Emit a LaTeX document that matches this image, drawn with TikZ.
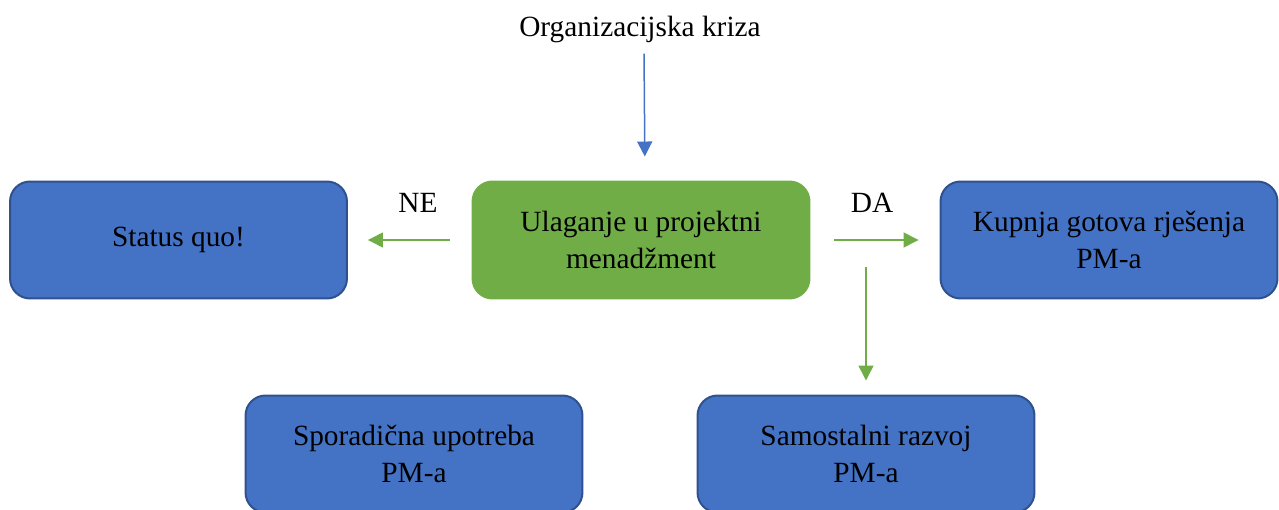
\documentclass[tikz,border=0pt]{standalone}
\usepackage{fontspec}
\setmainfont{Liberation Serif}
\usetikzlibrary{arrows.meta}

\definecolor{boxblue}{HTML}{4472C4}
\definecolor{boxline}{HTML}{2F528F}
\definecolor{boxgreen}{HTML}{70AD47}

\begin{document}
\begin{tikzpicture}[x = 0.02cm, y = -0.02cm,
  every node/.style = {font = \fontsize{16.7}{21}\selectfont, align = center},
  box/.style = {draw = boxline, fill = boxblue, line width = 0.04cm,
    rounded corners = 0.4cm, minimum width = 6.74cm, minimum height = 2.34cm},
  greenbox/.style = {box, draw = boxgreen, fill = boxgreen},
  link/.style = {line width = 0.03cm, -{Triangle[length = 0.3cm, width = 0.3cm]}}
  ]
  \useasboundingbox (0, 0) rectangle (1279, 510);

  \node (title) at (640, 29) {Organizacijska kriza};
  \node[greenbox] (invest) at (641, 240) {Ulaganje u projektni\\menadžment};
  \node[box] (statusquo) at (178.5, 240) {Status quo!};
  \node[box] (buy) at (1109, 240) {Kupnja gotova rješenja\\PM-a};
  \node[box] (sporadic) at (414, 454) {Sporadična upotreba\\PM-a};
  \node[box] (selfdev) at (866, 454) {Samostalni razvoj\\PM-a};

  \node (no) at (418, 203) {NE};
  \node (yes) at (872, 203) {DA};

  \coordinate (split) at (866, 267);

  \draw[link, boxblue, shorten < = 0.1cm, shorten > = 0.48cm]
  ([xshift = 0.08cm]title.south) -- ([xshift = 0.08cm]invest.north);
  \draw[link, boxgreen, shorten < = 0.44cm, shorten > = 0.4cm]
  (invest.west) -- (statusquo.east); % NE
  \draw[link, boxgreen, shorten < = 0.48cm, shorten > = 0.42cm]
  (invest.east) -- (buy.west); % DA
  \draw[link, boxgreen, shorten > = 0.28cm] (split) -- (selfdev.north);
\end{tikzpicture}
\end{document}
